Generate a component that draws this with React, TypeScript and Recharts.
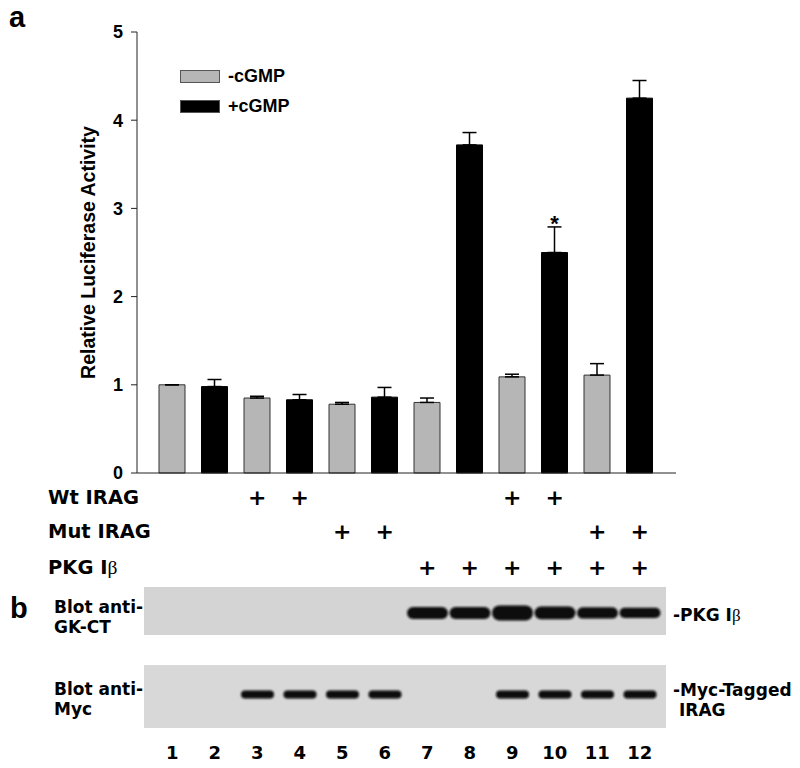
import React from 'react';
import { BarChart, Bar, Cell, XAxis, YAxis, ErrorBar, LabelList, Legend } from 'recharts';

// lanes 1-12, odd lanes without cGMP, even lanes with cGMP
const lanes = ['1', '2', '3', '4', '5', '6', '7', '8', '9', '10', '11', '12'];
const cgmp = [false, true, false, true, false, true, false, true, false, true, false, true];
const activity = [1.0, 0.98, 0.85, 0.83, 0.78, 0.86, 0.8, 3.72, 1.09, 2.5, 1.11, 4.25];
const sem = [0, 0.08, 0.02, 0.06, 0.02, 0.11, 0.05, 0.14, 0.03, 0.29, 0.13, 0.2];
const notes = ['', '', '', '', '', '', '', '', '', '*', '', ''];

const wtIrag = [false, false, true, true, false, false, false, false, true, true, false, false];
const mutIrag = [false, false, false, false, true, true, false, false, false, false, true, true];
const pkgIb = [false, false, false, false, false, false, true, true, true, true, true, true];

// western blot band strength per lane (0 = no band)
const gkBand = [0, 0, 0, 0, 0, 0, 1, 1, 1.25, 1.05, 0.95, 0.85];
const mycBand = [0, 0, 1, 1, 1, 1, 0, 0, 1, 1, 1, 1];

const yTicks = [0, 1, 2, 3, 4, 5];

const GREY = '#b6b6b6';
const BLACK = '#000000';
const legendItems = [
  { label: '-cGMP', color: GREY },
  { label: '+cGMP', color: BLACK },
];

const FONT_A = '"Liberation Sans", Arial, sans-serif';
const FONT_D = '"DejaVu Sans", sans-serif';
const FONT_S = '"Liberation Serif", "DejaVu Serif", serif';

const rows = lanes.map((lane, i) => ({
  lane,
  value: activity[i],
  err: [0, sem[i]],
  note: notes[i],
  gkOn: gkBand[i] > 0 ? 1 : 0,
  gk: gkBand[i],
  mycOn: mycBand[i] > 0 ? 1 : 0,
  myc: mycBand[i],
}));

const X_PAD = { left: 14, right: 15 };

const withBeta = (text: string) => {
  if (!text.endsWith('β')) return text;
  return (
    <>
      {text.slice(0, -1)}
      <tspan fontFamily={FONT_S} fontWeight={400}>β</tspan>
    </>
  );
};

const renderRowLabel = (props: any) => {
  const { viewBox, value } = props;
  return (
    <text x={48} y={viewBox.y + viewBox.height / 2} dominantBaseline="central" fontFamily={FONT_D} fontWeight={700} fontSize={19.5} fill="#000">
      {withBeta(value)}
    </text>
  );
};

const plusTick = (marks: boolean[], h: number) => (props: any) => {
  const { x, y, index } = props;
  if (!marks[index]) return <g />;
  return (
    <text x={x} y={y + h / 2} textAnchor="middle" dominantBaseline="central" fontFamily={FONT_D} fontWeight={700} fontSize={22} fill="#000">
      +
    </text>
  );
};

const laneTick = (props: any) => {
  const { x, y, payload } = props;
  return (
    <text x={x} y={y + 24} textAnchor="middle" dominantBaseline="central" fontFamily={FONT_D} fontWeight={700} fontSize={18} fill="#000">
      {payload.value}
    </text>
  );
};

const renderYLabel = (props: any) => {
  const { viewBox, value } = props;
  const cx = 88;
  const cy = viewBox.y + viewBox.height / 2;
  return (
    <text x={cx} y={cy} transform={`rotate(-90 ${cx} ${cy})`} textAnchor="middle" dominantBaseline="central" fontFamily={FONT_A} fontWeight={700} fontSize={19.5} fill="#000">
      {value}
    </text>
  );
};

const renderLegend = () => (
  <div style={{ display: 'flex', flexDirection: 'column' }}>
    {legendItems.map((item) => (
      <div key={item.label} style={{ display: 'flex', alignItems: 'center', height: 29.5 }}>
        <span style={{ width: 40, height: 13, background: item.color, border: '1px solid #555', boxSizing: 'border-box' }} />
        <span style={{ marginLeft: 8, fontFamily: FONT_A, fontWeight: 700, fontSize: 18, color: '#000' }}>{item.label}</span>
      </div>
    ))}
  </div>
);

const band = (key: string, rel: number, thick: number) => (props: any) => {
  const { x, y, width, height, payload } = props;
  const w = payload[key];
  if (!w || !height) return <g />;
  const h = thick * w;
  const cy = y + height * rel;
  return <rect x={x} y={cy - h / 2} width={width} height={h} rx={h / 2} fill="#0b0b0b" filter="url(#soft)" />;
};

export default function App() {
  return (
    <div style={{ position: 'relative', width: 800, height: 768, margin: -8, background: '#fff' }}>
      <div style={{ position: 'absolute', left: 0, top: 0 }}>
        <BarChart width={800} height={590} data={rows} margin={{ top: 32, right: 124, left: 0, bottom: 5 }}>
          <XAxis dataKey="lane" height={8} tick={false} tickLine={false} axisLine={{ stroke: '#222' }} padding={X_PAD} />
          <XAxis dataKey="lane" xAxisId="row1" height={32} interval={0} tickSize={0} tickMargin={0} tickLine={false} axisLine={false} padding={X_PAD}
            tick={plusTick(wtIrag, 32)} label={{ value: 'Wt IRAG', content: renderRowLabel }} />
          <XAxis dataKey="lane" xAxisId="row2" height={36} interval={0} tickSize={0} tickMargin={0} tickLine={false} axisLine={false} padding={X_PAD}
            tick={plusTick(mutIrag, 36)} label={{ value: 'Mut IRAG', content: renderRowLabel }} />
          <XAxis dataKey="lane" xAxisId="row3" height={36} interval={0} tickSize={0} tickMargin={0} tickLine={false} axisLine={false} padding={X_PAD}
            tick={plusTick(pkgIb, 36)} label={{ value: 'PKG Iβ', content: renderRowLabel }} />
          <XAxis dataKey="lane" xAxisId="top" orientation="top" height={0} tick={false} tickLine={false} axisLine={{ stroke: '#444' }} padding={X_PAD} />
          <YAxis domain={[0, 5]} ticks={yTicks} width={137} tickSize={6} tickMargin={8} interval={0}
            tick={{ fill: '#000', fontSize: 18, fontWeight: 700, fontFamily: FONT_A }}
            tickLine={{ stroke: '#222' }} axisLine={{ stroke: '#222' }}
            label={{ value: 'Relative Luciferase Activity', content: renderYLabel }} />
          <YAxis yAxisId="r" orientation="right" domain={[0, 5]} width={0} tick={false} tickLine={false} axisLine={{ stroke: '#444' }} />
          <Legend layout="vertical" align="center" verticalAlign="middle" content={renderLegend}
            wrapperStyle={{ left: 180, top: 62, width: 140, height: 59 }} />
          <Bar dataKey="value" barSize={26} isAnimationActive={false} strokeWidth={1}>
            {rows.map((r, i) => (
              <Cell key={r.lane} fill={cgmp[i] ? BLACK : GREY} stroke={cgmp[i] ? BLACK : '#333'} />
            ))}
            <ErrorBar dataKey="err" direction="y" width={7} stroke="#000" strokeWidth={1.5} isAnimationActive={false} />
            <LabelList dataKey="note" position="top" offset={22} fill="#000" fontSize={22} fontWeight={700} fontFamily={FONT_A} />
          </Bar>
        </BarChart>
      </div>

      {/* blot anti-GK-CT */}
      <div style={{ position: 'absolute', left: 144, top: 587, width: 522, height: 48, background: '#d4d4d4' }} />
      <div style={{ position: 'absolute', left: 0, top: 587 }}>
        <BarChart width={800} height={48} data={rows} margin={{ top: 0, right: 124, left: 137, bottom: 0 }}>
          <XAxis dataKey="lane" hide padding={X_PAD} />
          <YAxis hide domain={[0, 1]} />
          <Bar dataKey="gkOn" barSize={41} isAnimationActive={false} shape={band('gk', 0.54, 12)} />
        </BarChart>
      </div>

      {/* blot anti-Myc */}
      <div style={{ position: 'absolute', left: 144, top: 665, width: 522, height: 63, background: '#d8d8d8' }} />
      <div style={{ position: 'absolute', left: 0, top: 665 }}>
        <BarChart width={800} height={103} data={rows} margin={{ top: 0, right: 124, left: 137, bottom: 0 }}>
          <XAxis dataKey="lane" height={40} interval={0} tickSize={0} tickMargin={0} tickLine={false} axisLine={false} padding={X_PAD} tick={laneTick} />
          <YAxis hide domain={[0, 1]} />
          <Bar dataKey="mycOn" barSize={33} isAnimationActive={false} shape={band('myc', 0.47, 8)} />
        </BarChart>
      </div>

      <svg width={800} height={768} style={{ position: 'absolute', left: 0, top: 0, pointerEvents: 'none' }}>
        <defs>
          <filter id="soft" x="-20%" y="-50%" width="140%" height="200%">
            <feGaussianBlur stdDeviation="0.9" />
          </filter>
        </defs>
        <text x={9} y={27} fontFamily={FONT_A} fontWeight={700} fontSize={29} fill="#000">a</text>
        <text x={10} y={618} fontFamily={FONT_A} fontWeight={700} fontSize={29} fill="#000">b</text>
        <g fontFamily={FONT_D} fontWeight={700} fontSize={17} fill="#000">
          <text x={54} y={613}>Blot anti-</text>
          <text x={54} y={633}>GK-CT</text>
          <text x={54} y={695}>Blot anti-</text>
          <text x={54} y={715}>Myc</text>
          <text x={673} y={621}>{withBeta('-PKG Iβ')}</text>
          <text x={673} y={696}>-Myc-Tagged</text>
          <text x={679} y={716}>IRAG</text>
        </g>
      </svg>
    </div>
  );
}
